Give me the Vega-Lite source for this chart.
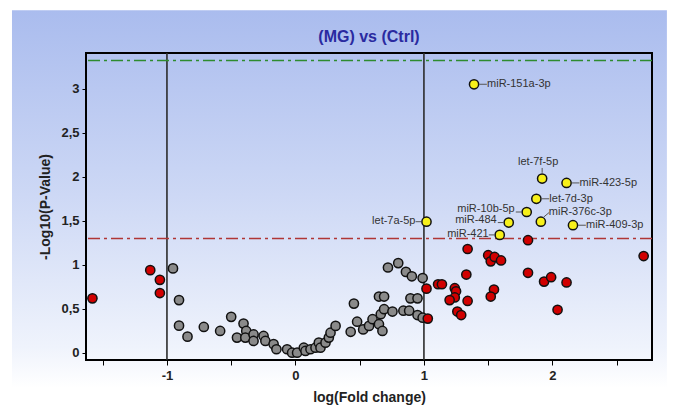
{
  "$schema": "https://vega.github.io/schema/vega-lite/v6.json",
  "width": 566,
  "height": 307,
  "autosize": {"type": "none"},
  "padding": {"left": 86, "top": 53, "right": 21, "bottom": 60},
  "background": "#ffffff",
  "config": {
    "view": {"stroke": null},
    "font": "Liberation Sans",
    "axis": {
      "titleFont": "Liberation Sans", "titleFontSize": 14, "titleFontWeight": "bold", "titleColor": "#222222",
      "labelFont": "Liberation Sans", "labelFontSize": 13, "labelFontWeight": "bold", "labelColor": "#222222",
      "tickColor": "#000000", "tickWidth": 1,
      "domain": false, "grid": false, "labelFlush": false, "labelOverlap": false
    },
    "axisX": {"titlePadding": 8, "labelPadding": 4, "tickSize": 5},
    "axisY": {"titlePadding": 8, "labelPadding": 3, "tickSize": 4}
  },
  "title": {
    "text": "(MG) vs (Ctrl)",
    "color": "#2a2aa0",
    "fontSize": 16,
    "font": "Liberation Sans",
    "fontWeight": "bold",
    "frame": "group",
    "offset": -35
  },
  "datasets": {
    "pts": [
      {"fc": -0.953, "p": 0.96, "g": "ns"},
      {"fc": -0.906, "p": 0.60, "g": "ns"},
      {"fc": -0.906, "p": 0.31, "g": "ns"},
      {"fc": -0.84, "p": 0.185, "g": "ns"},
      {"fc": -0.713, "p": 0.295, "g": "ns"},
      {"fc": -0.586, "p": 0.25, "g": "ns"},
      {"fc": -0.50, "p": 0.41, "g": "ns"},
      {"fc": -0.404, "p": 0.333, "g": "ns"},
      {"fc": -0.383, "p": 0.25, "g": "ns"},
      {"fc": -0.455, "p": 0.174, "g": "ns"},
      {"fc": -0.39, "p": 0.174, "g": "ns"},
      {"fc": -0.326, "p": 0.21, "g": "ns"},
      {"fc": -0.326, "p": 0.136, "g": "ns"},
      {"fc": -0.248, "p": 0.193, "g": "ns"},
      {"fc": -0.234, "p": 0.136, "g": "ns"},
      {"fc": -0.17, "p": 0.10, "g": "ns"},
      {"fc": -0.148, "p": 0.042, "g": "ns"},
      {"fc": -0.065, "p": 0.042, "g": "ns"},
      {"fc": -0.026, "p": 0.003, "g": "ns"},
      {"fc": 0.013, "p": 0.003, "g": "ns"},
      {"fc": 0.065, "p": 0.06, "g": "ns"},
      {"fc": 0.078, "p": 0.023, "g": "ns"},
      {"fc": 0.117, "p": 0.042, "g": "ns"},
      {"fc": 0.156, "p": 0.06, "g": "ns"},
      {"fc": 0.182, "p": 0.117, "g": "ns"},
      {"fc": 0.195, "p": 0.06, "g": "ns"},
      {"fc": 0.234, "p": 0.117, "g": "ns"},
      {"fc": 0.26, "p": 0.174, "g": "ns"},
      {"fc": 0.273, "p": 0.23, "g": "ns"},
      {"fc": 0.3125, "p": 0.307, "g": "ns"},
      {"fc": 0.43, "p": 0.24, "g": "ns"},
      {"fc": 0.455, "p": 0.56, "g": "ns"},
      {"fc": 0.48, "p": 0.355, "g": "ns"},
      {"fc": 0.527, "p": 0.267, "g": "ns"},
      {"fc": 0.573, "p": 0.307, "g": "ns"},
      {"fc": 0.60, "p": 0.383, "g": "ns"},
      {"fc": 0.65, "p": 0.326, "g": "ns"},
      {"fc": 0.677, "p": 0.25, "g": "ns"},
      {"fc": 0.664, "p": 0.44, "g": "ns"},
      {"fc": 0.69, "p": 0.497, "g": "ns"},
      {"fc": 0.755, "p": 0.47, "g": "ns"},
      {"fc": 0.65, "p": 0.64, "g": "ns"},
      {"fc": 0.69, "p": 0.64, "g": "ns"},
      {"fc": 0.72, "p": 0.97, "g": "ns"},
      {"fc": 0.80, "p": 1.02, "g": "ns"},
      {"fc": 0.86, "p": 0.92, "g": "ns"},
      {"fc": 0.906, "p": 0.87, "g": "ns"},
      {"fc": 0.99, "p": 0.85, "g": "ns"},
      {"fc": 0.895, "p": 0.62, "g": "ns"},
      {"fc": 0.95, "p": 0.62, "g": "ns"},
      {"fc": 0.84, "p": 0.48, "g": "ns"},
      {"fc": 0.885, "p": 0.48, "g": "ns"},
      {"fc": 0.95, "p": 0.43, "g": "ns"},
      {"fc": 0.99, "p": 0.40, "g": "ns"},
      {"fc": -1.58, "p": 0.62, "g": "fc"},
      {"fc": -1.13, "p": 0.94, "g": "fc"},
      {"fc": -1.055, "p": 0.83, "g": "fc"},
      {"fc": -1.055, "p": 0.68, "g": "fc"},
      {"fc": 1.02, "p": 0.73, "g": "fc"},
      {"fc": 1.03, "p": 0.39, "g": "fc"},
      {"fc": 1.11, "p": 0.78, "g": "fc"},
      {"fc": 1.14, "p": 0.78, "g": "fc"},
      {"fc": 1.24, "p": 0.735, "g": "fc"},
      {"fc": 1.25, "p": 0.70, "g": "fc"},
      {"fc": 1.24, "p": 0.63, "g": "fc"},
      {"fc": 1.20, "p": 0.60, "g": "fc"},
      {"fc": 1.34, "p": 0.59, "g": "fc"},
      {"fc": 1.33, "p": 0.89, "g": "fc"},
      {"fc": 1.34, "p": 1.18, "g": "fc"},
      {"fc": 1.26, "p": 0.47, "g": "fc"},
      {"fc": 1.29, "p": 0.43, "g": "fc"},
      {"fc": 1.50, "p": 1.11, "g": "fc"},
      {"fc": 1.52, "p": 1.04, "g": "fc"},
      {"fc": 1.55, "p": 1.09, "g": "fc"},
      {"fc": 1.60, "p": 1.05, "g": "fc"},
      {"fc": 1.545, "p": 0.72, "g": "fc"},
      {"fc": 1.52, "p": 0.64, "g": "fc"},
      {"fc": 1.81, "p": 1.28, "g": "fc"},
      {"fc": 1.81, "p": 0.91, "g": "fc"},
      {"fc": 1.935, "p": 0.81, "g": "fc"},
      {"fc": 1.99, "p": 0.86, "g": "fc"},
      {"fc": 2.11, "p": 0.80, "g": "fc"},
      {"fc": 2.04, "p": 0.49, "g": "fc"},
      {"fc": 2.71, "p": 1.10, "g": "fc"},
      {"fc": 1.39, "p": 3.05, "g": "sig", "name": "miR-151a-3p"},
      {"fc": 1.92, "p": 1.98, "g": "sig", "name": "let-7f-5p"},
      {"fc": 2.11, "p": 1.93, "g": "sig", "name": "miR-423-5p"},
      {"fc": 1.875, "p": 1.75, "g": "sig", "name": "let-7d-3p"},
      {"fc": 1.80, "p": 1.60, "g": "sig", "name": "miR-10b-5p"},
      {"fc": 1.91, "p": 1.49, "g": "sig", "name": "miR-376c-3p"},
      {"fc": 1.66, "p": 1.48, "g": "sig", "name": "miR-484"},
      {"fc": 1.02, "p": 1.49, "g": "sig", "name": "let-7a-5p"},
      {"fc": 2.16, "p": 1.45, "g": "sig", "name": "miR-409-3p"},
      {"fc": 1.59, "p": 1.34, "g": "sig", "name": "miR-421"}
    ]
  },
  "layer": [
    {
      "data": {"values": [{}]},
      "mark": {
        "type": "rect",
        "fill": {
          "gradient": "linear", "x1": 0, "y1": 0, "x2": 0, "y2": 1,
          "stops": [
            {"offset": 0, "color": "#aabcee"},
            {"offset": 0.45, "color": "#cdd8f5"},
            {"offset": 0.82, "color": "#eff3fc"},
            {"offset": 0.92, "color": "#ffffff"},
            {"offset": 1, "color": "#ffffff"}
          ]
        }
      },
      "encoding": {
        "x": {"datum": -2.206, "type": "quantitative", "scale": {"domain": [-1.63, 2.775]}, "title": "log(Fold change)"},
        "x2": {"datum": 2.891},
        "y": {"datum": 3.89, "type": "quantitative", "scale": {"domain": [-0.08, 3.405]}, "title": "-Log10(P-Value)"},
        "y2": {"datum": -0.77}
      }
    },
    {
      "data": {"values": [{}]},
      "mark": {"type": "rect", "fill": null, "stroke": "#000000", "strokeWidth": 2},
      "encoding": {
        "x": {"datum": -1.63, "type": "quantitative", "scale": {"domain": [-1.63, 2.775]}, "title": "log(Fold change)"},
        "x2": {"datum": 2.775},
        "y": {"datum": -0.08, "type": "quantitative", "scale": {"domain": [-0.08, 3.405]}, "title": "-Log10(P-Value)"},
        "y2": {"datum": 3.405}
      }
    },
    {
      "data": {"values": [{"v": -1}, {"v": 1}]},
      "mark": {"type": "rule", "color": "#2b2b2b", "strokeWidth": 1.6},
      "encoding": {
        "x": {"field": "v", "type": "quantitative", "scale": {"domain": [-1.63, 2.775]}, "title": "log(Fold change)"}
      }
    },
    {
      "data": {"values": [{}]},
      "mark": {"type": "rule", "color": "#2e8b2e", "strokeWidth": 1.6, "strokeDash": [12, 4, 3, 4]},
      "encoding": {
        "y": {"datum": 3.32, "type": "quantitative", "scale": {"domain": [-0.08, 3.405]}, "title": "-Log10(P-Value)"}
      }
    },
    {
      "data": {"values": [{}]},
      "mark": {"type": "rule", "color": "#b03636", "strokeWidth": 1.6, "strokeDash": [12, 4, 3, 4]},
      "encoding": {
        "y": {"datum": 1.3, "type": "quantitative", "scale": {"domain": [-0.08, 3.405]}, "title": "-Log10(P-Value)"}
      }
    },
    {
      "data": {"name": "pts"},
      "mark": {"type": "point", "shape": "circle", "filled": true, "size": 85, "stroke": "#111111", "strokeWidth": 1.5, "opacity": 1},
      "encoding": {
        "x": {
          "field": "fc", "type": "quantitative",
          "scale": {"domain": [-1.63, 2.775]},
          "title": "log(Fold change)",
          "axis": {
            "zindex": 2,
            "values": [-1.5, -1.25, -1, -0.75, -0.5, -0.25, 0, 0.25, 0.5, 0.75, 1, 1.25, 1.5, 1.75, 2, 2.25, 2.5, 2.75],
            "labelExpr": "datum.value % 1 === 0 ? toString(datum.value) : ''"
          }
        },
        "y": {
          "field": "p", "type": "quantitative",
          "scale": {"domain": [-0.08, 3.405]},
          "title": "-Log10(P-Value)",
          "axis": {
            "zindex": 2,
            "values": [0, 0.5, 1, 1.5, 2, 2.5, 3],
            "labelExpr": "replace(toString(datum.value), '.', ',')"
          }
        },
        "color": {
          "field": "g", "type": "nominal",
          "scale": {"domain": ["ns", "fc", "sig"], "range": ["#8a8a8a", "#d10000", "#f7f01a"]},
          "legend": null
        }
      }
    },
    {
      "data": {"name": "pts"},
      "transform": [
        {"filter": {"field": "name", "oneOf": ["miR-151a-3p", "miR-423-5p", "let-7d-3p", "miR-409-3p"]}},
        {"calculate": "datum.fc + 0.04", "as": "xa"},
        {"calculate": "datum.fc + 0.1", "as": "xb"}
      ],
      "mark": {"type": "rule", "color": "#555555", "strokeWidth": 1},
      "encoding": {
        "x": {"field": "xa", "type": "quantitative", "scale": {"domain": [-1.63, 2.775]}, "title": "log(Fold change)"},
        "x2": {"field": "xb"},
        "y": {"field": "p", "type": "quantitative", "scale": {"domain": [-0.08, 3.405]}, "title": "-Log10(P-Value)"}
      }
    },
    {
      "data": {"name": "pts"},
      "transform": [
        {"filter": {"field": "name", "oneOf": ["miR-10b-5p", "miR-484", "let-7a-5p", "miR-421"]}},
        {"calculate": "datum.fc - 0.04", "as": "xa"},
        {"calculate": "datum.fc - 0.085", "as": "xb"}
      ],
      "mark": {"type": "rule", "color": "#555555", "strokeWidth": 1},
      "encoding": {
        "x": {"field": "xa", "type": "quantitative", "scale": {"domain": [-1.63, 2.775]}, "title": "log(Fold change)"},
        "x2": {"field": "xb"},
        "y": {"field": "p", "type": "quantitative", "scale": {"domain": [-0.08, 3.405]}, "title": "-Log10(P-Value)"}
      }
    },
    {
      "data": {"name": "pts"},
      "transform": [
        {"filter": {"field": "name", "oneOf": ["let-7f-5p"]}},
        {"calculate": "datum.p + 0.065", "as": "ya"},
        {"calculate": "datum.p + 0.12", "as": "yb"}
      ],
      "mark": {"type": "rule", "color": "#555555", "strokeWidth": 1},
      "encoding": {
        "x": {"field": "fc", "type": "quantitative", "scale": {"domain": [-1.63, 2.775]}, "title": "log(Fold change)"},
        "y": {"field": "ya", "type": "quantitative", "scale": {"domain": [-0.08, 3.405]}, "title": "-Log10(P-Value)"},
        "y2": {"field": "yb"}
      }
    },
    {
      "data": {"name": "pts"},
      "transform": [
        {"filter": {"field": "name", "oneOf": ["miR-376c-3p"]}},
        {"calculate": "datum.fc + 0.02", "as": "xa"},
        {"calculate": "datum.fc + 0.065", "as": "xb"},
        {"calculate": "datum.p + 0.05", "as": "ya"},
        {"calculate": "datum.p + 0.105", "as": "yb"}
      ],
      "mark": {"type": "rule", "color": "#555555", "strokeWidth": 1},
      "encoding": {
        "x": {"field": "xa", "type": "quantitative", "scale": {"domain": [-1.63, 2.775]}, "title": "log(Fold change)"},
        "x2": {"field": "xb"},
        "y": {"field": "ya", "type": "quantitative", "scale": {"domain": [-0.08, 3.405]}, "title": "-Log10(P-Value)"},
        "y2": {"field": "yb"}
      }
    },
    {
      "data": {"name": "pts"},
      "transform": [{"filter": {"field": "name", "oneOf": ["miR-151a-3p", "miR-423-5p", "let-7d-3p", "miR-409-3p"]}}],
      "mark": {"type": "text", "align": "left", "baseline": "middle", "dx": 13, "fontSize": 11, "color": "#333333", "font": "Liberation Sans"},
      "encoding": {
        "x": {"field": "fc", "type": "quantitative", "scale": {"domain": [-1.63, 2.775]}, "title": "log(Fold change)"},
        "y": {"field": "p", "type": "quantitative", "scale": {"domain": [-0.08, 3.405]}, "title": "-Log10(P-Value)"},
        "text": {"field": "name"}
      }
    },
    {
      "data": {"name": "pts"},
      "transform": [{"filter": {"field": "name", "oneOf": ["miR-10b-5p", "miR-484"]}}],
      "mark": {"type": "text", "align": "right", "baseline": "middle", "dx": -12, "dy": -3, "fontSize": 11, "color": "#333333", "font": "Liberation Sans"},
      "encoding": {
        "x": {"field": "fc", "type": "quantitative", "scale": {"domain": [-1.63, 2.775]}, "title": "log(Fold change)"},
        "y": {"field": "p", "type": "quantitative", "scale": {"domain": [-0.08, 3.405]}, "title": "-Log10(P-Value)"},
        "text": {"field": "name"}
      }
    },
    {
      "data": {"name": "pts"},
      "transform": [{"filter": {"field": "name", "oneOf": ["let-7a-5p", "miR-421"]}}],
      "mark": {"type": "text", "align": "right", "baseline": "middle", "dx": -11, "dy": -1, "fontSize": 11, "color": "#333333", "font": "Liberation Sans"},
      "encoding": {
        "x": {"field": "fc", "type": "quantitative", "scale": {"domain": [-1.63, 2.775]}, "title": "log(Fold change)"},
        "y": {"field": "p", "type": "quantitative", "scale": {"domain": [-0.08, 3.405]}, "title": "-Log10(P-Value)"},
        "text": {"field": "name"}
      }
    },
    {
      "data": {"name": "pts"},
      "transform": [{"filter": {"field": "name", "oneOf": ["let-7f-5p"]}}],
      "mark": {"type": "text", "align": "center", "baseline": "middle", "dx": -4, "dy": -17, "fontSize": 11, "color": "#333333", "font": "Liberation Sans"},
      "encoding": {
        "x": {"field": "fc", "type": "quantitative", "scale": {"domain": [-1.63, 2.775]}, "title": "log(Fold change)"},
        "y": {"field": "p", "type": "quantitative", "scale": {"domain": [-0.08, 3.405]}, "title": "-Log10(P-Value)"},
        "text": {"field": "name"}
      }
    },
    {
      "data": {"name": "pts"},
      "transform": [{"filter": {"field": "name", "oneOf": ["miR-376c-3p"]}}],
      "mark": {"type": "text", "align": "left", "baseline": "middle", "dx": 8, "dy": -10, "fontSize": 11, "color": "#333333", "font": "Liberation Sans"},
      "encoding": {
        "x": {"field": "fc", "type": "quantitative", "scale": {"domain": [-1.63, 2.775]}, "title": "log(Fold change)"},
        "y": {"field": "p", "type": "quantitative", "scale": {"domain": [-0.08, 3.405]}, "title": "-Log10(P-Value)"},
        "text": {"field": "name"}
      }
    }
  ]
}
